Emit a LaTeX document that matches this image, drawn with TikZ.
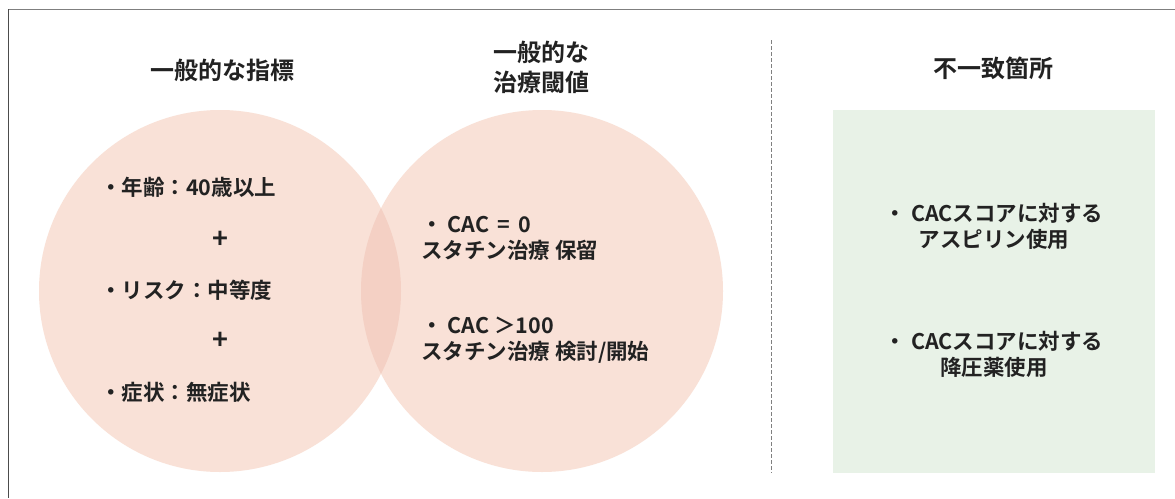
\documentclass[tikz,border=0pt]{standalone}
\usepackage{fontspec}
\setmainfont{Noto Sans CJK JP}[BoldFont={* Bold}]
\definecolor{peach}{HTML}{F9E1D7}
\definecolor{peachdark}{HTML}{F4D0C4}
\definecolor{mint}{HTML}{E8F2E7}
\definecolor{txt}{HTML}{222222}
\definecolor{frame}{HTML}{7F7F7F}
\tikzset{
  title/.style={font=\bfseries\fontsize{24}{30}\selectfont, text=txt, align=center, inner sep=0pt},
  body/.style={font=\bfseries\fontsize{21.5}{26}\selectfont, text=txt, inner sep=0pt},
  plus/.style={font=\bfseries\fontsize{27}{30}\selectfont, text=txt, inner sep=0pt},
}
\begin{document}
\begin{tikzpicture}[x=1pt,y=-1pt]
\useasboundingbox (0,0) rectangle (1175,498);
\fill[white] (0,0) rectangle (1175,498);
% frame
\draw[frame, line width=1.6pt] (8,9.5) -- (1175,9.5);
\draw[black!70, line width=0.9pt] (8.5,9) -- (8.5,498);
% circles
\fill[peach] (220,291) circle[radius=181];
\fill[peach] (542,291) circle[radius=181];
\begin{scope}
  \clip (220,291) circle[radius=181];
  \fill[peachdark] (542,291) circle[radius=181];
\end{scope}
% green box
\fill[mint] (833,110) rectangle (1155,473);
% dashed separator
\coordinate (d1) at (771,40);
\coordinate (d2) at (771,473);
\draw[gray, line width=0.9pt, dash pattern=on 4pt off 2pt] (d1) -- (d2);
% titles
\node[title] (t1) at (222,70) {一般的な指標};
\node[title] (t2) at (541,67) {一般的な\\治療閾値};
\node[title] (t3) at (993,68) {不一致箇所};
% left circle
\node[body, anchor=west] (a1) at (100,187) {・年齢：40歳以上};
\node[plus] (p1) at (220,240) {+};
\node[body, anchor=west] (a2) at (100,290) {・リスク：中等度};
\node[plus] (p2) at (220,341) {+};
\node[body, anchor=west] (a3) at (100,392) {・症状：無症状};
% right circle
\node[body, anchor=west, align=left] (b1) at (421,238) {・ CAC\, =\, 0\\スタチン治療 保留};
\node[body, anchor=west, align=left] (b2) at (421,340) {・ CAC ＞100\\スタチン治療 検討/開始};
% green box text
\node[body, align=center] (c1) at (994,226) {・ CACスコアに対する\\アスピリン使用};
\node[body, align=center] (c2) at (994,354) {・ CACスコアに対する\\降圧薬使用};
\end{tikzpicture}
\end{document}
